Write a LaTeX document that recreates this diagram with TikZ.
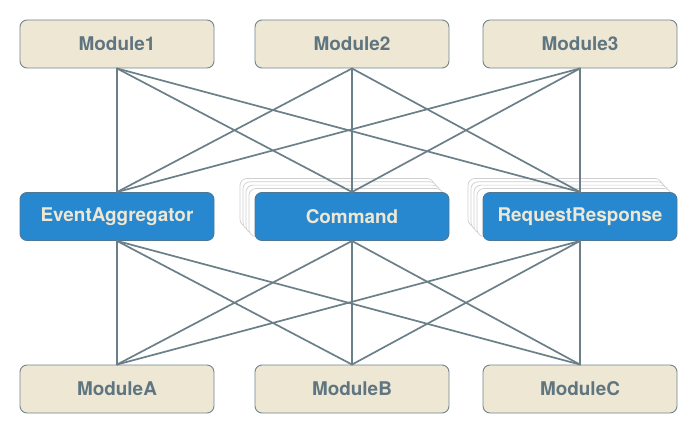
\documentclass[tikz,border=0pt]{standalone}
\usepackage{fontspec}
\setmainfont{TeX Gyre Heros}
\usetikzlibrary{positioning}
\definecolor{modfill}{HTML}{EEE7D4}
\definecolor{modtext}{HTML}{5F7580}
\definecolor{edgegray}{HTML}{71858E}
\definecolor{wiregray}{HTML}{6B7F88}
\definecolor{hubblue}{HTML}{2788D0}
\definecolor{hubedge}{HTML}{4F7896}
\definecolor{stackgray}{HTML}{CFCFCF}

\begin{document}
\begin{tikzpicture}[line cap=round,line join=round,x=1pt,y=1pt,
  module/.style={draw=edgegray,fill=modfill,rounded corners=7pt,line width=0.9pt,
    minimum width=194pt,minimum height=48pt,inner sep=0pt,
    text=modtext,font=\fontsize{18.9}{21}\selectfont\bfseries},
  hub/.style={module,draw=hubedge,fill=hubblue,text=modfill},
  stackbox/.style={draw=stackgray,fill=white,rounded corners=7pt,line width=0.7pt,
    minimum width=194pt,minimum height=48pt,inner sep=0pt},
  wire/.style={draw=wiregray,line width=1.7pt}]
\useasboundingbox (0,0) rectangle (698,434);
% stacked copies behind Command and RequestResponse
\foreach \k in {4,3,2,1}
{
  \node[stackbox] (cmds\k) at (352-3*\k-3,217.5+3.33*\k+0.7) {};
  \node[stackbox] (reqs\k) at (580-3*\k-3,217.5+3.33*\k+0.7) {};
}
% top row
\node[module] (m1) at (117,390) {Module1};
\node[module] (m2) at (352,390) {Module2};
\node[module] (m3) at (580,390) {Module3};
% middle row
\node[hub] (ea) at (117,217.5) {EventAggregator};
\node[hub] (cmd) at (352,217.5) {Command};
\node[hub] (rr) at (580,217.5) {RequestResponse};
% bottom row
\node[module] (ma) at (117,45) {ModuleA};
\node[module] (mb) at (352,45) {ModuleB};
\node[module] (mc) at (580,45) {ModuleC};
% connections
\foreach \t in {m1,m2,m3}
  \foreach \h in {ea,cmd,rr}
    \draw[wire] (\t.south) -- (\h.north);
\foreach \h in {ea,cmd,rr}
  \foreach \b in {ma,mb,mc}
    \draw[wire] (\h.south) -- (\b.north);
\end{tikzpicture}
\end{document}
